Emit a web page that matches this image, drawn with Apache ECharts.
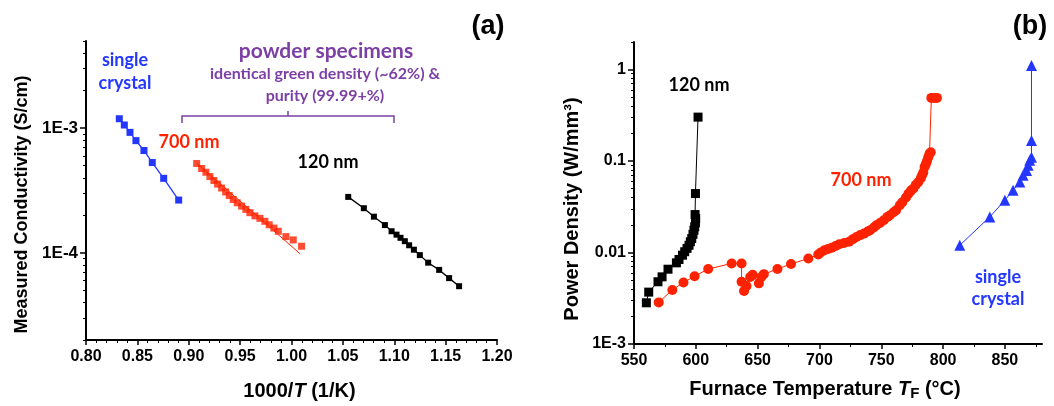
<!DOCTYPE html>
<html><head><meta charset="utf-8">
<script src="https://cdn.jsdelivr.net/npm/echarts@6/dist/echarts.min.js"></script>
<style>html,body{margin:0;padding:0;background:#fff}#c{width:1054px;height:406px}</style>
</head><body><div id="c"></div>
<script>
// ---------- Panel (a): conductivity vs 1000/T ----------
const aSingleX = [0.8324, 0.8373, 0.8428, 0.8486, 0.8564, 0.8645, 0.8756, 0.8902];
const aSingleY = [1.19e-3, 1.06e-3, 9.25e-4, 7.94e-4, 6.62e-4, 5.30e-4, 3.96e-4, 2.65e-4];

const a700X = [0.9077, 0.9125, 0.9167, 0.9206, 0.9245, 0.9281, 0.9320, 0.9359, 0.9394, 0.9433, 0.9472, 0.9515,
               0.9556, 0.9595, 0.9644, 0.9693, 0.9741, 0.9783, 0.9829, 0.9871, 0.9946, 1.0017, 1.0098];
const a700Y = [5.21e-4, 4.75e-4, 4.43e-4, 4.09e-4, 3.80e-4, 3.56e-4, 3.31e-4, 3.08e-4, 2.88e-4, 2.68e-4, 2.52e-4, 2.37e-4,
               2.23e-4, 2.10e-4, 1.98e-4, 1.89e-4, 1.79e-4, 1.68e-4, 1.58e-4, 1.49e-4, 1.35e-4, 1.27e-4, 1.13e-4];
const a700FitX = [0.9077, 1.0085];
const a700FitY = [5.25e-4, 9.8e-5];

const a120X = [1.0552, 1.0704, 1.0802, 1.0909, 1.0974, 1.1022, 1.1061, 1.1103, 1.1145, 1.1191, 1.1249, 1.1330, 1.1437, 1.1534, 1.1631];
const a120Y = [2.81e-4, 2.28e-4, 1.95e-4, 1.67e-4, 1.49e-4, 1.40e-4, 1.32e-4, 1.24e-4, 1.15e-4, 1.06e-4, 9.59e-5, 8.34e-5, 7.30e-5, 6.27e-5, 5.40e-5];

const aXTicks = [0.80, 0.85, 0.90, 0.95, 1.00, 1.05, 1.10, 1.15, 1.20];
const aYMajor = [1e-4, 1e-3];
const aYMinor = [2e-5, 3e-5, 4e-5, 5e-5, 6e-5, 7e-5, 8e-5, 9e-5,
                 2e-4, 3e-4, 4e-4, 5e-4, 6e-4, 7e-4, 8e-4, 9e-4,
                 2e-3, 3e-3, 4e-3, 5e-3];

// ---------- Panel (b): power density vs furnace temperature ----------
const b120X = [560.0, 561.9, 569.4, 572.7, 577.5, 584.3, 586.4, 589.2, 591.0, 592.9, 594.5, 595.6, 596.7, 597.7,
               598.5, 599.1, 599.7, 599.9, 599.4, 599.7, 601.8];
const b120Y = [2.82e-3, 3.69e-3, 4.79e-3, 5.42e-3, 6.57e-3, 7.71e-3, 8.39e-3, 9.35e-3, 1.02e-2, 1.11e-2, 1.20e-2, 1.31e-2,
               1.42e-2, 1.58e-2, 1.75e-2, 1.91e-2, 2.11e-2, 2.35e-2, 2.60e-2, 4.41e-2, 0.302];

const b700X = [570, 581, 590, 599, 610, 629, 637, 637, 639, 641, 644, 646, 651, 653, 655, 666, 677, 691, 699, 701,
               704, 707, 710, 713, 716, 720, 724, 727, 730, 733, 736, 739, 741, 744, 746, 749, 752, 755, 757, 760,
               762, 765, 767, 770, 772, 774, 776, 778, 780, 782, 783, 784, 785, 786, 787, 788, 789, 790, 790.5, 793, 795];
const b700Y = [2.85e-3, 3.9e-3, 4.7e-3, 5.5e-3, 6.6e-3, 7.6e-3, 7.6e-3, 4.8e-3, 3.8e-3, 4.3e-3, 5.4e-3, 5.7e-3, 4.6e-3,
               5.4e-3, 5.8e-3, 6.6e-3, 7.5e-3, 8.6e-3, 9.5e-3, 1.0e-2, 1.06e-2, 1.09e-2, 1.13e-2, 1.18e-2, 1.23e-2,
               1.27e-2, 1.31e-2, 1.40e-2, 1.48e-2, 1.55e-2, 1.61e-2, 1.70e-2, 1.75e-2, 1.88e-2, 1.99e-2, 2.10e-2,
               2.25e-2, 2.45e-2, 2.55e-2, 2.75e-2, 2.90e-2, 3.28e-2, 3.55e-2, 4.0e-2, 4.4e-2, 4.75e-2, 5.0e-2, 5.5e-2,
               5.9e-2, 6.5e-2, 7.0e-2, 7.5e-2, 8.6e-2, 9.2e-2, 0.10, 0.11, 0.12, 0.125, 0.49, 0.49, 0.49];

const bSingleX = [813.5, 837.8, 849.9, 856.6, 862.1, 864.7, 867.5, 868.8, 870.1, 871.5, 871.5, 871.5];
const bSingleY = [1.20e-2, 2.45e-2, 3.72e-2, 4.79e-2, 5.90e-2, 6.98e-2, 7.9e-2, 8.97e-2, 0.102, 0.110, 0.168, 1.11];

const bXTicks = [550, 600, 650, 700, 750, 800, 850];
const bYMajor = [1e-3, 1e-2, 0.1, 1];
const bYMinor = [2e-3, 3e-3, 4e-3, 5e-3, 6e-3, 7e-3, 8e-3, 9e-3,
                 2e-2, 3e-2, 4e-2, 5e-2, 6e-2, 7e-2, 8e-2, 9e-2,
                 0.2, 0.3, 0.4, 0.5, 0.6, 0.7, 0.8, 0.9, 2];

// ---------- colours / fonts ----------
const BLUE = '#2337ff', RED = '#ff2200', BLACK = '#000000', PURPLE = '#7b3fa6';
const AX = 'Liberation Sans, Arial, sans-serif';
const ANN = 'Lato, "Open Sans", sans-serif';

function pairs(xs, ys) { return xs.map((x, i) => [x, ys[i]]); }

function fmtA(v) { return '1E' + Math.round(Math.log10(v)); }
function fmtB(v) {
  const e = Math.round(Math.log10(v));
  if (e <= -3) return '1E' + e;
  return String(Math.pow(10, e).toFixed(Math.max(0, -e)));
}

const axisLineStyle = { color: '#000', width: 2 };

const chart = echarts.init(document.getElementById('c'), null, { renderer: 'canvas' });

const option = {
  animation: false,
  backgroundColor: '#fff',
  grid: [
    { left: 86, right: 557, top: 41, bottom: 63 },
    { left: 634, right: 12, top: 42, bottom: 62 }
  ],
  xAxis: [
    {
      gridIndex: 0, type: 'value', min: 0.8, max: 1.2, interval: 0.05,
      axisLine: { lineStyle: axisLineStyle },
      axisTick: { length: 5, lineStyle: { color: '#000', width: 1.5 } },
      minorTick: { show: true, splitNumber: 5, length: 3, lineStyle: { color: '#000', width: 1 } },
      splitLine: { show: false },
      axisLabel: { color: '#000', fontFamily: AX, fontWeight: 'bold', fontSize: 16, margin: 9,
                   customValues: aXTicks, formatter: v => v.toFixed(2) },
      name: '{n|1000/}{i|T}{n| (1/K)}', nameLocation: 'middle', nameGap: 41,
      nameTextStyle: { padding: [0, 0, 0, 16], rich: {
        n: { fontFamily: AX, fontSize: 20, fontWeight: 'bold', color: '#000' },
        i: { fontFamily: AX, fontSize: 20, fontWeight: 'bold', fontStyle: 'italic', color: '#000' }
      } }
    },
    {
      gridIndex: 1, type: 'value', min: 550, max: 880, interval: 50,
      axisLine: { lineStyle: axisLineStyle },
      axisTick: { length: 5, customValues: bXTicks, lineStyle: { color: '#000', width: 1.5 } },
      minorTick: { show: true, splitNumber: 2, length: 3, lineStyle: { color: '#000', width: 1 } },
      splitLine: { show: false },
      axisLabel: { color: '#000', fontFamily: AX, fontWeight: 'bold', fontSize: 16, margin: 9,
                   customValues: bXTicks },
      name: '{n|Furnace Temperature }{i|T}{s|F}{n| (°C)}', nameLocation: 'middle', nameGap: 34,
      nameTextStyle: { padding: [0, 26, 0, 0], rich: {
        n: { fontFamily: AX, fontSize: 20, fontWeight: 'bold', color: '#000' },
        i: { fontFamily: AX, fontSize: 20, fontWeight: 'bold', fontStyle: 'italic', color: '#000' },
        s: { fontFamily: AX, fontSize: 15, fontWeight: 'bold', color: '#000', verticalAlign: 'bottom', padding: [8, 0, 0, 0] }
      } }
    }
  ],
  yAxis: [
    {
      gridIndex: 0, type: 'log', logBase: 10, min: 2e-5, max: 5e-3, position: 'left',
      axisLine: { lineStyle: axisLineStyle },
      axisTick: { length: 6, customValues: aYMajor, lineStyle: { color: '#000', width: 1.5 } },
      splitLine: { show: false },
      axisLabel: { color: '#000', fontFamily: AX, fontWeight: 'bold', fontSize: 17, margin: 8,
                   customValues: aYMajor, formatter: fmtA },
      name: 'Measured Conductivity (S/cm)', nameLocation: 'middle', nameRotate: 90, nameGap: 55,
      nameTextStyle: { fontFamily: AX, fontWeight: 'bold', fontSize: 18, color: '#000', padding: [0, 28, 0, 0] }
    },
    {
      gridIndex: 0, type: 'log', logBase: 10, min: 2e-5, max: 5e-3, position: 'left', offset: 0,
      axisLine: { show: false },
      axisTick: { length: 3, customValues: aYMinor, lineStyle: { color: '#000', width: 1 } },
      splitLine: { show: false },
      axisLabel: { show: false }
    },
    {
      gridIndex: 1, type: 'log', logBase: 10, min: 1e-3, max: 2, position: 'left',
      axisLine: { lineStyle: axisLineStyle },
      axisTick: { length: 6, customValues: bYMajor, lineStyle: { color: '#000', width: 1.5 } },
      splitLine: { show: false },
      axisLabel: { color: '#000', fontFamily: AX, fontWeight: 'bold', fontSize: 16, margin: 8,
                   customValues: bYMajor, formatter: fmtB },
      name: 'Power Density (W/mm³)', nameLocation: 'middle', nameRotate: 90, nameGap: 52,
      nameTextStyle: { fontFamily: AX, fontSize: 20, fontWeight: 'bold', color: '#000', padding: [0, 32, 0, 0] }
    },
    {
      gridIndex: 1, type: 'log', logBase: 10, min: 1e-3, max: 2, position: 'left', offset: 0,
      axisLine: { show: false },
      axisTick: { length: 3, customValues: bYMinor, lineStyle: { color: '#000', width: 1 } },
      splitLine: { show: false },
      axisLabel: { show: false }
    }
  ],
  series: [
    { name: 'a single crystal', type: 'line', xAxisIndex: 0, yAxisIndex: 0, data: pairs(aSingleX, aSingleY),
      symbol: 'rect', symbolSize: 7, itemStyle: { color: BLUE }, lineStyle: { color: BLUE, width: 1.3 } },
    { name: 'a 700 fit', type: 'line', xAxisIndex: 0, yAxisIndex: 0, data: pairs(a700FitX, a700FitY),
      symbol: 'none', lineStyle: { color: RED, width: 1 } },
    { name: 'a 700 nm', type: 'scatter', xAxisIndex: 0, yAxisIndex: 0, data: pairs(a700X, a700Y),
      symbol: 'rect', symbolSize: 7, itemStyle: { color: RED } },
    { name: 'a 120 nm', type: 'line', xAxisIndex: 0, yAxisIndex: 0, data: pairs(a120X, a120Y),
      symbol: 'rect', symbolSize: 6, itemStyle: { color: BLACK }, lineStyle: { color: BLACK, width: 1.3 } },

    { name: 'b 120 nm', type: 'line', xAxisIndex: 1, yAxisIndex: 2, data: pairs(b120X, b120Y),
      symbol: 'rect', symbolSize: 9, itemStyle: { color: BLACK }, lineStyle: { color: BLACK, width: 1 } },
    { name: 'b 700 nm', type: 'line', xAxisIndex: 1, yAxisIndex: 2, data: pairs(b700X, b700Y),
      symbol: 'circle', symbolSize: 10, itemStyle: { color: RED }, lineStyle: { color: RED, width: 1 } },
    { name: 'b single crystal', type: 'line', xAxisIndex: 1, yAxisIndex: 2, data: pairs(bSingleX, bSingleY),
      symbol: 'triangle', symbolSize: 11, itemStyle: { color: BLUE }, lineStyle: { color: BLUE, width: 1 } }
  ],
  graphic: [
    { type: 'text', x: 488, y: 27, style: { text: '(a)', fill: '#000', font: 'bold 27px ' + AX, align: 'center', verticalAlign: 'middle' } },
    { type: 'text', x: 1030, y: 27, style: { text: '(b)', fill: '#000', font: 'bold 27px ' + AX, align: 'center', verticalAlign: 'middle' } },

    { type: 'text', x: 125, y: 60, style: { text: 'single', fill: BLUE, font: 'bold 18px ' + ANN, align: 'center', verticalAlign: 'middle' } },
    { type: 'text', x: 125, y: 83, style: { text: 'crystal', fill: BLUE, font: 'bold 18px ' + ANN, align: 'center', verticalAlign: 'middle' } },
    { type: 'text', x: 326, y: 51, style: { text: 'powder specimens', fill: PURPLE, font: 'bold 21px ' + ANN, align: 'center', verticalAlign: 'middle' } },
    { type: 'text', x: 325, y: 74, style: { text: 'identical green density (~62%) &', fill: PURPLE, font: 'bold 16px ' + ANN, align: 'center', verticalAlign: 'middle' } },
    { type: 'text', x: 325, y: 96, style: { text: 'purity (99.99+%)', fill: PURPLE, font: 'bold 16px ' + ANN, align: 'center', verticalAlign: 'middle' } },
    { type: 'polyline', shape: { points: [[182, 123], [182, 116], [394, 116], [394, 123]] }, style: { stroke: PURPLE, lineWidth: 1.5, fill: null } },
    { type: 'line', shape: { x1: 288, y1: 116, x2: 288, y2: 111 }, style: { stroke: PURPLE, lineWidth: 1.5 } },
    { type: 'text', x: 189, y: 142, style: { text: '700 nm', fill: RED, font: 'bold 18px ' + ANN, align: 'center', verticalAlign: 'middle' } },
    { type: 'text', x: 328, y: 162, style: { text: '120 nm', fill: '#000', font: 'bold 18px ' + ANN, align: 'center', verticalAlign: 'middle' } },

    { type: 'text', x: 699, y: 85, style: { text: '120 nm', fill: '#000', font: 'bold 18px ' + ANN, align: 'center', verticalAlign: 'middle' } },
    { type: 'text', x: 861, y: 180, style: { text: '700 nm', fill: RED, font: 'bold 18px ' + ANN, align: 'center', verticalAlign: 'middle' } },
    { type: 'text', x: 998, y: 277, style: { text: 'single', fill: BLUE, font: 'bold 18px ' + ANN, align: 'center', verticalAlign: 'middle' } },
    { type: 'text', x: 998, y: 299, style: { text: 'crystal', fill: BLUE, font: 'bold 18px ' + ANN, align: 'center', verticalAlign: 'middle' } }
  ]
};
chart.setOption(option);
</script>
</body></html>
